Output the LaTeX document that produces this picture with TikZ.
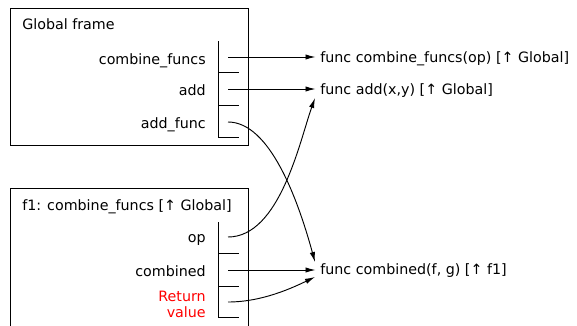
\documentclass[tikz,border=0pt]{standalone}
\usepackage{fontspec}
\setmainfont{DejaVu Sans}
\usetikzlibrary{arrows.meta}
\begin{document}
\begin{tikzpicture}[x=0.75pt,y=-0.75pt,
  frm/.style={line width=0.7pt},
  slotline/.style={line width=0.7pt},
  txt/.style={inner sep=0pt,font=\fontsize{10.7}{12}\selectfont},
  lbl/.style={txt,anchor=base east},
  ttl/.style={txt,anchor=base west},
  fn/.style={txt,anchor=base west,inner xsep=3.4pt},
  ptr/.style={line width=0.7pt,-{Latex[length=7.5pt,width=4pt]}}]
\useasboundingbox (0,0) rectangle (577,325);
% Global frame
\draw[frm] (10,8) rectangle (248,145);
\node[ttl] (gtitle) at (22,29) {Global frame};
\draw[slotline] (218,41) -- (218,137);
\draw[slotline] (218,72) -- (239,72);
\draw[slotline] (218,105) -- (239,105);
\draw[slotline] (218,137) -- (239,137);
\node[lbl] (lcomb) at (206,64) {combine\_funcs};
\node[lbl] (ladd) at (206,95) {add};
\node[lbl] (laddf) at (206,128) {add\_func};
\coordinate (gs1) at (228,57);
\coordinate (gs2) at (228,89);
\coordinate (gs3) at (228,122);
% f1 frame
\draw[frm] (10,330) -- (10,188) -- (248,188) -- (248,330);
\node[ttl] (ftitle) at (22,210) {f1: combine\_funcs [↑ Global]};
\draw[slotline] (218,222) -- (218,317);
\draw[slotline] (218,253) -- (239,253);
\draw[slotline] (218,286) -- (239,286);
\draw[slotline] (218,317) -- (239,317);
\node[lbl] (lop) at (206,242) {op};
\node[lbl] (lcombd) at (206,276) {combined};
\node[lbl,align=right,text=red] (lret) at (206,317) {Return\\value};
\coordinate (fs1) at (228,237);
\coordinate (fs2) at (228,270);
\coordinate (fs3) at (228,302);
% function objects
\node[fn] (fcomb) at (315.5,62) {func combine\_funcs(op) [↑ Global]};
\node[fn] (fadd) at (315.5,94) {func add(x,y) [↑ Global]};
\node[fn] (fcombd) at (315.5,274) {func combined(f, g) [↑ f1]};
\coordinate (tipop) at (315,98);
\coordinate (tipaddf) at (315,262);
\coordinate (tipret) at (315,277);
% pointers
\draw[ptr] (gs1) -- (gs1 -| fcomb.west);
\draw[ptr] (gs2) -- (gs2 -| fadd.west);
\draw[ptr] (gs3) .. controls (270,122) and (298,200) .. (tipaddf);
\draw[ptr] (fs1) .. controls (280,237) and (300,140) .. (tipop);
\draw[ptr] (fs2) -- (fs2 -| fcombd.west);
\draw[ptr] (fs3) .. controls (262,302) and (292,288) .. (tipret);
\end{tikzpicture}
\end{document}
